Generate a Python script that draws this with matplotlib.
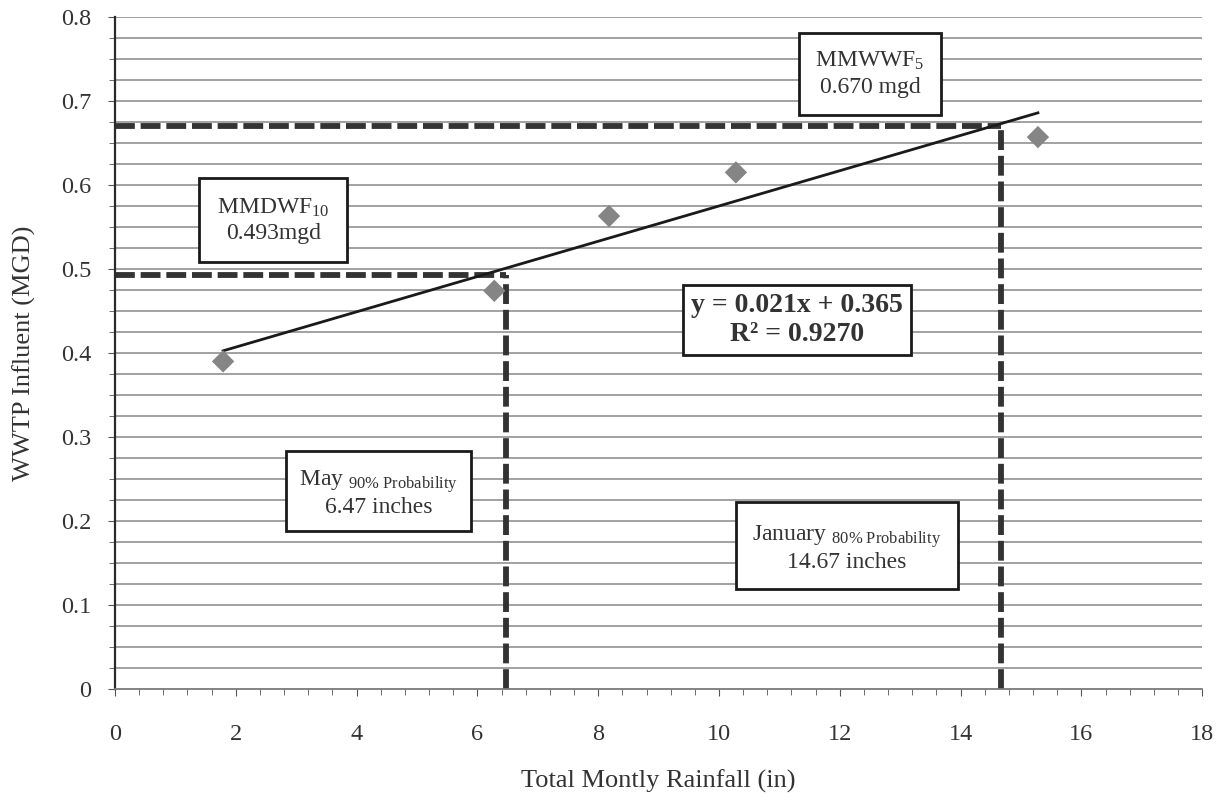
import matplotlib

matplotlib.use("Agg")
import matplotlib.pyplot as plt  # noqa: E402
import numpy as np  # noqa: E402

plt.rcParams["font.family"] = ["Liberation Serif", "DejaVu Serif"]
plt.rcParams["mathtext.fontset"] = "custom"
plt.rcParams["mathtext.rm"] = "Liberation Serif"
plt.rcParams["mathtext.it"] = "Liberation Serif:italic"
plt.rcParams["mathtext.bf"] = "Liberation Serif:bold"

# monthly rainfall (in) vs WWTP influent (MGD)
rainfall = [1.79, 6.28, 8.18, 10.28, 15.28]
influent = [0.390, 0.474, 0.563, 0.615, 0.657]

# trend line as reported on the chart
slope = 0.021
intercept = 0.365
r_squared = 0.9270

# design flows and the rainfall that produces them
mmdwf_rain, mmdwf_flow = 6.47, 0.493
mmwwf_rain, mmwwf_flow = 14.67, 0.670

TEXT = "#333333"
GRID = "#9a9a9a"

fig = plt.figure(figsize=(12.23, 7.97), dpi=100)
ax = fig.add_axes([0.094, 0.1355, 0.889, 0.8432])

ax.set_xlim(0, 18)
ax.set_ylim(0, 0.8)
ax.set_xticks(np.arange(0, 19, 2))
ax.set_xticks(np.arange(0, 18.01, 0.4), minor=True)
ax.set_yticks(np.arange(0, 0.81, 0.1))
ax.set_yticklabels(["0", "0.1", "0.2", "0.3", "0.4", "0.5", "0.6", "0.7", "0.8"])
ax.set_yticks(np.arange(0, 0.801, 0.025), minor=True)

for yv in np.arange(0.025, 0.801, 0.025):
    ax.axhline(yv, color=GRID, linewidth=1.3, zorder=0)

for side in ("top", "right"):
    ax.spines[side].set_visible(False)
ax.spines["left"].set_color("#2a2a2a")
ax.spines["left"].set_linewidth(1.6)
ax.spines["bottom"].set_color("#7a7a7a")
ax.spines["bottom"].set_linewidth(1.3)

ax.tick_params(axis="both", which="both", direction="out", colors="#555555",
               labelcolor=TEXT, labelsize=17.5)
ax.tick_params(axis="x", which="major", length=5, pad=20)
ax.tick_params(axis="x", which="minor", length=4)
ax.tick_params(axis="y", which="major", length=5, pad=12)
ax.tick_params(axis="y", which="minor", length=4)

# trend line over the range of the data
xs = np.array([min(rainfall), max(rainfall)])
ax.plot(xs, slope * xs + intercept, color="#1a1a1a", linewidth=2, zorder=3)

ax.scatter(rainfall, influent, marker="D", s=130, color="#858585",
           edgecolors="none", zorder=4)

dash = dict(color="#333333", linewidth=4.2, linestyle=(0, (3.4, 1.0)),
            solid_capstyle="butt", zorder=2)
for rain, flow in ((mmdwf_rain, mmdwf_flow), (mmwwf_rain, mmwwf_flow)):
    ax.plot([0, rain], [flow, flow], **dash)
    ax.plot([rain, rain], [0, flow], **dash)

box = dict(boxstyle="square,pad=0.55", facecolor="white", edgecolor="#1a1a1a",
           linewidth=2)

ax.text(2.62, 0.558, "MMDWF$_{10}$\n0.493mgd", ha="center", va="center",
        fontsize=17, color=TEXT, bbox=dict(box, boxstyle="square,pad=0.75"),
        linespacing=1.3, zorder=5)
ax.text(12.5, 0.732, "MMWWF$_{5}$\n0.670 mgd", ha="center", va="center",
        fontsize=17, color=TEXT, bbox=dict(box, boxstyle="square,pad=0.7"),
        linespacing=1.3, zorder=5)
ax.text(11.29, 0.439, f"y = {slope:.3f}x + {intercept:.3f}\nR\u00b2 = {r_squared:.4f}",
        ha="center", va="center", fontsize=20, fontweight="bold", color=TEXT,
        bbox=dict(box, boxstyle="square,pad=0.3"), linespacing=1.2, zorder=5)
ax.text(4.37, 0.233,
        r"May $_{\mathrm{90\%\ Probability}}$" + "\n" + f"{mmdwf_rain:.2f} inches",
        ha="center", va="center", fontsize=17, color=TEXT,
        bbox=dict(box, boxstyle="square,pad=0.55"), linespacing=1.1, zorder=5)
ax.text(12.12, 0.168,
        r"January $_{\mathrm{80\%\ Probability}}$" + "\n" + f"{mmwwf_rain:.2f} inches",
        ha="center", va="center", fontsize=17, color=TEXT,
        bbox=dict(box, boxstyle="square,pad=0.7"), linespacing=1.1, zorder=5)

ax.set_xlabel("Total Montly Rainfall (in)", fontsize=19, color=TEXT, va="center")
ax.xaxis.set_label_coords(0.5, -0.138)
ax.set_ylabel("WWTP Influent (MGD)", fontsize=19, color=TEXT, labelpad=18)

fig.savefig("out.png", dpi=100)
